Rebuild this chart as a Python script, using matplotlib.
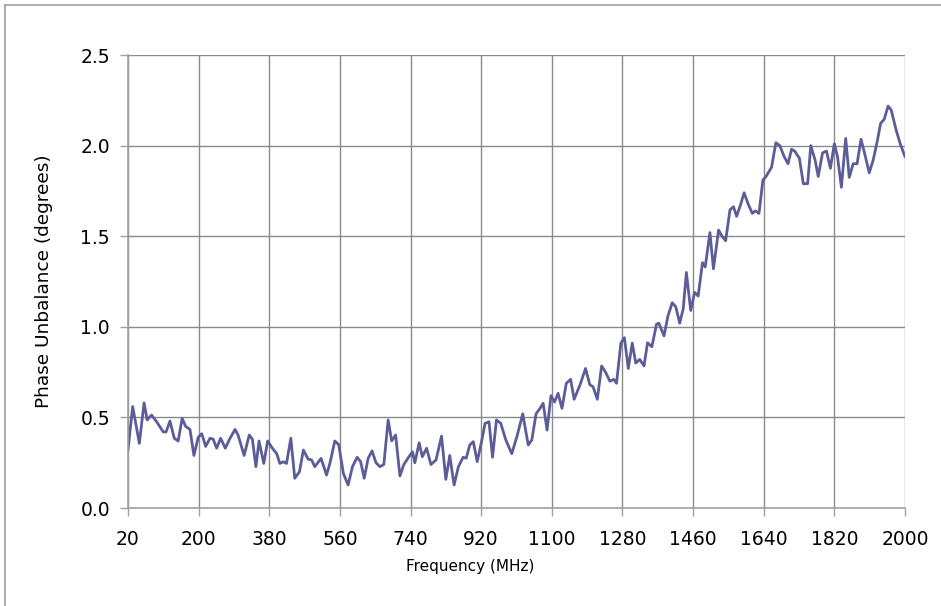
import matplotlib
matplotlib.use('Agg')
from matplotlib import pyplot as plt
from matplotlib.lines import Line2D

# frequency (MHz) and phase unbalance (degrees)
freq = [20, 32, 49, 61, 69, 80, 93, 110, 117, 127, 138, 148, 158, 167, 178, 188,
        199, 208, 218, 229, 237, 246, 256, 268, 280, 293, 301, 316, 329, 337, 346,
        354, 366, 376, 388, 399, 407, 416, 424, 435, 445, 457, 467, 479, 488, 496,
        512, 526, 535, 547, 557, 569, 581, 592, 604, 613, 622, 632, 642, 652, 662,
        672, 683, 692, 702, 713, 723, 736, 745, 751, 762, 770, 781, 792, 805, 819,
        830, 840, 851, 862, 874, 882, 891, 900, 910, 921, 930, 940, 949, 959, 970,
        983, 998, 1011, 1026, 1040, 1049, 1060, 1070, 1078, 1088, 1098, 1107, 1116,
        1126, 1137, 1148, 1157, 1172, 1186, 1197, 1205, 1216, 1227, 1237, 1248,
        1258, 1265, 1276, 1285, 1295, 1305, 1314, 1324, 1335, 1344, 1355, 1367,
        1373, 1386, 1396, 1407, 1416, 1426, 1435, 1443, 1454, 1464, 1473, 1484,
        1491, 1503, 1512, 1525, 1534, 1543, 1554, 1563, 1571, 1582, 1590, 1600,
        1611, 1619, 1628, 1638, 1646, 1660, 1671, 1681, 1692, 1702, 1711, 1719,
        1731, 1741, 1752, 1760, 1771, 1779, 1790, 1800, 1810, 1820, 1828, 1838,
        1849, 1858, 1868, 1878, 1888, 1898, 1909, 1919, 1929, 1938, 1947, 1957,
        1965, 1978, 1988, 2000]
phase = [0.32, 0.56, 0.357, 0.58, 0.486, 0.513, 0.476, 0.42, 0.42, 0.48, 0.385,
         0.37, 0.495, 0.45, 0.434, 0.29, 0.39, 0.41, 0.34, 0.385, 0.38, 0.33,
         0.385, 0.33, 0.385, 0.434, 0.40, 0.29, 0.403, 0.38, 0.228, 0.37, 0.246,
         0.37, 0.33, 0.30, 0.246, 0.255, 0.246, 0.385, 0.164, 0.20, 0.32, 0.27,
         0.265, 0.228, 0.274, 0.182, 0.25, 0.37, 0.35, 0.19, 0.127, 0.228, 0.28,
         0.255, 0.164, 0.274, 0.315, 0.25, 0.228, 0.24, 0.486, 0.37, 0.403, 0.177,
         0.24, 0.283, 0.31, 0.25, 0.36, 0.283, 0.33, 0.24, 0.265, 0.397, 0.158,
         0.29, 0.127, 0.228, 0.28, 0.275, 0.348, 0.366, 0.256, 0.366, 0.467, 0.476,
         0.28, 0.486, 0.467, 0.375, 0.30, 0.393, 0.52, 0.348, 0.375, 0.52, 0.55,
         0.578, 0.43, 0.62, 0.585, 0.633, 0.55, 0.688, 0.71, 0.60, 0.68, 0.77,
         0.68, 0.67, 0.60, 0.784, 0.75, 0.70, 0.71, 0.688, 0.91, 0.94, 0.77, 0.91,
         0.80, 0.82, 0.784, 0.912, 0.89, 1.015, 1.02, 0.95, 1.06, 1.133, 1.11,
         1.02, 1.10, 1.30, 1.09, 1.19, 1.17, 1.354, 1.33, 1.52, 1.32, 1.534, 1.50,
         1.475, 1.645, 1.663, 1.61, 1.68, 1.74, 1.68, 1.626, 1.64, 1.626, 1.81,
         1.83, 1.88, 2.016, 2.00, 1.94, 1.90, 1.98, 1.97, 1.93, 1.79, 1.79, 2.00,
         1.92, 1.83, 1.96, 1.97, 1.875, 2.01, 1.94, 1.77, 2.04, 1.825, 1.90, 1.90,
         2.035, 1.95, 1.85, 1.92, 2.02, 2.123, 2.145, 2.218, 2.196, 2.082, 2.01,
         1.94]

xticks = list(range(20, 2001, 180))
yticks = [0.0, 0.5, 1.0, 1.5, 2.0, 2.5]

fig = plt.figure(figsize=(9.41, 6.06), dpi=100)
ax = fig.add_axes([0.136, 0.1617, 0.8257, 0.7475])

ax.plot(freq, phase, color='#5c5d98', lw=2.0, solid_joinstyle='round')

ax.set_xlim(20, 2000)
ax.set_ylim(0, 2.5)
ax.set_xticks(xticks)
ax.set_yticks(yticks)
ax.set_yticklabels(['%.1f' % v for v in yticks])
ax.grid(True, color='#8a8a8a', lw=1.0)
ax.set_axisbelow(True)
for s in ['top', 'right']:
    ax.spines[s].set_visible(False)
for s in ['left', 'bottom']:
    ax.spines[s].set_color('#a0a0a0')
    ax.spines[s].set_linewidth(1.2)
ax.tick_params(direction='out', length=6, width=1, color='#a0a0a0',
               labelsize=13.5)
ax.tick_params(axis='x', pad=10)
ax.tick_params(axis='y', pad=7)

ax.set_xlabel('Frequency (MHz)', fontsize=11)
ax.set_ylabel('Phase Unbalance (degrees)', fontsize=13.3)
# x label is centred on the whole chart, not on the plot area
ax.xaxis.set_label_coords(0.44, -0.112)
ax.yaxis.set_label_coords(-0.097, 0.5)

# chart frame (left and top edges visible)
fig.add_artist(Line2D([0.005, 0.005], [0.0, 0.992], transform=fig.transFigure,
                      color='#a0a0a0', lw=1.2))
fig.add_artist(Line2D([0.005, 1.0], [0.992, 0.992], transform=fig.transFigure,
                      color='#a0a0a0', lw=1.2))

fig.savefig('out.png', dpi=100)
